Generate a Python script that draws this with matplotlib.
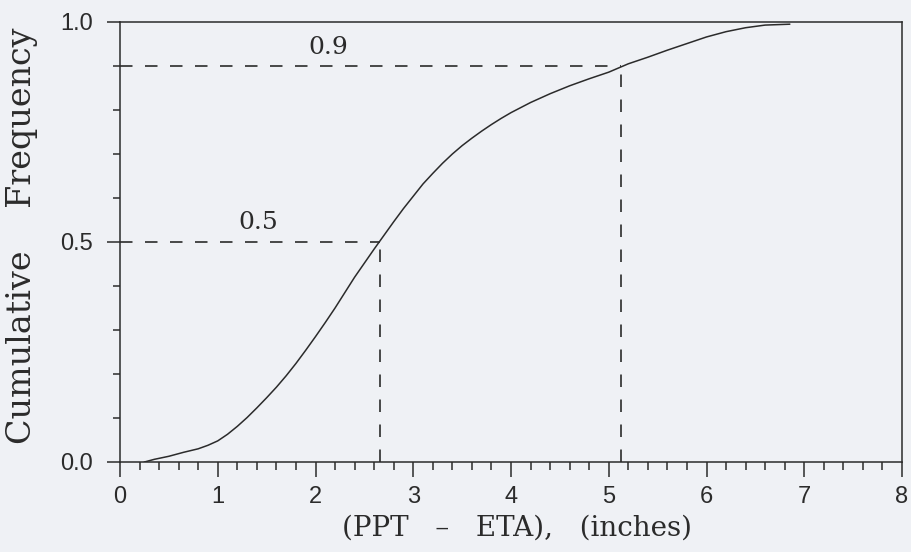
import matplotlib
matplotlib.use("Agg")
import matplotlib.pyplot as plt
from matplotlib.ticker import MultipleLocator, FixedLocator, FixedFormatter

# ---- data ----
cdf_x = [0.25, 0.35, 0.5, 0.65, 0.8, 0.9, 1.0, 1.1, 1.2, 1.3, 1.4, 1.5, 1.6,
         1.7, 1.8, 1.9, 2.0, 2.1, 2.2, 2.3, 2.4, 2.5, 2.6, 2.7, 2.8, 2.9, 3.0,
         3.1, 3.2, 3.3, 3.4, 3.5, 3.6, 3.7, 3.8, 3.9, 4.0, 4.2, 4.4, 4.6, 4.8,
         5.0, 5.2, 5.4, 5.6, 5.8, 6.0, 6.2, 6.4, 6.6, 6.85]
cdf_y = [0.0, 0.006, 0.013, 0.022, 0.030, 0.038, 0.048, 0.063, 0.081, 0.101,
         0.123, 0.146, 0.170, 0.196, 0.224, 0.254, 0.285, 0.317, 0.350, 0.385,
         0.420, 0.452, 0.484, 0.515, 0.546, 0.576, 0.604, 0.632, 0.656, 0.679,
         0.700, 0.719, 0.736, 0.752, 0.767, 0.781, 0.794, 0.817, 0.837, 0.855,
         0.871, 0.886, 0.905, 0.920, 0.936, 0.951, 0.966, 0.978, 0.987, 0.993,
         0.995]
quantile_levels = [0.5, 0.9]
quantile_values = [2.66, 5.13]
quantile_labels = ["0.5", "0.9"]
x_ticks = [0, 1, 2, 3, 4, 5, 6, 7, 8]
y_ticks = [0.0, 0.5, 1.0]
y_tick_labels = ["0.0", "0.5", "1.0"]
x_label = "(PPT   \u2013   ETA),   (inches)"
y_label = "Cumulative    Frequency"

plt.rcParams['lines.scale_dashes'] = False
paper = '#eff1f5'
ink = '#2b2b2b'

fig = plt.figure(figsize=(9.11, 5.52), dpi=100, facecolor=paper)
ax = fig.add_axes([120/911, 1 - 462/552, 782/911, 440/552])
ax.set_facecolor(paper)

ax.plot(cdf_x, cdf_y, color=ink, lw=1.1)
for lev, val in zip(quantile_levels, quantile_values):
    ax.plot([0, val], [lev, lev], color=ink, lw=1.2, dashes=(9, 9))
    ax.plot([val, val], [0, lev], color=ink, lw=1.2, dashes=(9, 9))

label_pos = [(1.41, 0.545), (2.13, 0.943)]
for (tx, ty), lab in zip(label_pos, quantile_labels):
    ax.text(tx, ty, lab, ha='center', va='center', fontsize=18,
            family='DejaVu Serif', color=ink)

ax.set_xlim(0, 8)
ax.set_ylim(0, 1.0)
ax.xaxis.set_major_locator(FixedLocator(x_ticks))
ax.xaxis.set_minor_locator(MultipleLocator(0.2))
ax.yaxis.set_major_locator(FixedLocator(y_ticks))
ax.yaxis.set_major_formatter(FixedFormatter(y_tick_labels))
ax.yaxis.set_minor_locator(MultipleLocator(0.1))

ax.tick_params(axis='x', which='major', direction='out', length=11, width=1.1,
               color=ink, labelsize=17, pad=6, labelcolor=ink)
ax.tick_params(axis='x', which='minor', direction='out', length=6, width=1.1, color=ink)
ax.tick_params(axis='y', which='major', direction='out', length=9.5, width=1.1,
               color=ink, labelsize=17, pad=10, labelcolor=ink)
ax.tick_params(axis='y', which='minor', direction='out', length=5, width=1.1, color=ink)
for lab in ax.get_xticklabels() + ax.get_yticklabels():
    lab.set_family('Liberation Sans')

for s in ax.spines.values():
    s.set_color(ink)
    s.set_linewidth(1.1)

ax.set_xlabel(x_label, fontsize=20, family='DejaVu Serif', color=ink)
ax.xaxis.set_label_coords(0.508, -0.15)
ax.xaxis.label.set_va('center')
ax.set_ylabel(y_label, fontsize=24, family='DejaVu Serif', color=ink)
ax.yaxis.set_label_coords(-0.125, 0.515)
ax.yaxis.label.set_va('center')

fig.savefig('out.png', dpi=100, facecolor=paper)
